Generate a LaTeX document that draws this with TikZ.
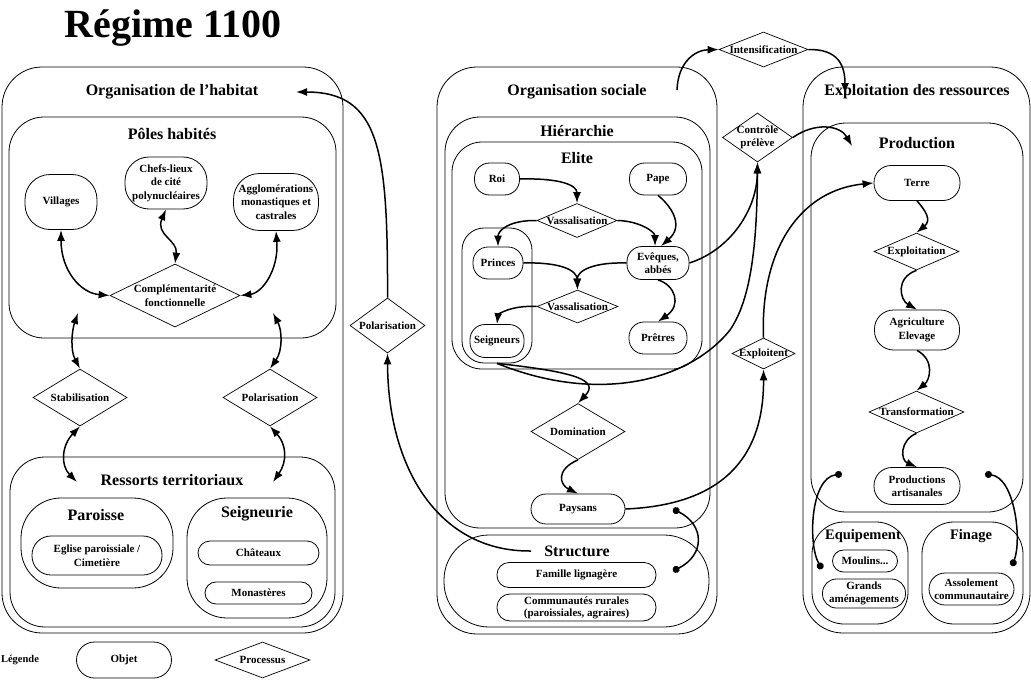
\documentclass[tikz,border=0pt]{standalone}
\usepackage{fontspec}
\setmainfont{Liberation Serif}
\usetikzlibrary{shapes.geometric,arrows.meta}
\tikzset{
  cont/.style={draw, line width=0.8pt, rounded corners=#1, inner sep=0pt},
  obj/.style={draw, line width=0.8pt, rounded corners=#1, align=center, inner sep=1pt,
    font=\fontsize{11}{13.5}\selectfont\bfseries},
  proc/.style={draw, diamond, line width=0.7pt, inner sep=0pt},
  ptxt/.style={font=\fontsize{11}{13.5}\selectfont\bfseries, align=center, inner sep=0pt},
  bigt/.style={font=\fontsize{16}{19}\selectfont\bfseries, inner sep=1pt},
  midt/.style={font=\fontsize{14.5}{17}\selectfont\bfseries, inner sep=1pt},
  smallt/.style={font=\fontsize{10.5}{12}\selectfont\bfseries, inner sep=1pt},
  arr/.style={line width=1.5pt, -{Latex[length=11pt,width=8pt]}},
  darr/.style={line width=1.5pt, {Latex[length=11pt,width=8pt]}-{Latex[length=11pt,width=8pt]}},
  dotc/.style={line width=1.5pt, {Circle[length=7pt]}-{Circle[length=7pt]}}
}
\begin{document}
\begin{tikzpicture}[x=1pt,y=-1pt]
\fill[white] (0,0) rectangle (1031,680);
\useasboundingbox (0,0) rectangle (1031,680);

\node[font=\fontsize{40}{44}\selectfont\bfseries, inner sep=0pt] (titre) at (173,28) {Régime 1100};

% ---------- Organisation de l'habitat ----------
\node[cont=40pt, minimum width=341, minimum height=566] (oh) at (172.5,350) {};
\node[bigt] (ohT) at (172,92) {Organisation de l’habitat};
\node[cont=35pt, minimum width=327, minimum height=221] (ph) at (172.5,227.5) {};
\node[bigt] (phT) at (172,134) {Pôles habités};
\node[obj=25pt, minimum width=72, minimum height=55] (vill) at (61,202) {Villages};
\node[obj=24pt, minimum width=82, minimum height=52] (chefs) at (166,183) {Chefs-lieux\\de cité\\polynucléaires};
\node[obj=26pt, minimum width=85, minimum height=57] (aggl) at (276,202) {Agglomérations\\monastiques et\\castrales};
\node[proc, minimum width=130, minimum height=63,
  label={[ptxt]center:Complémentarité\\fonctionnelle}] (comp) at (175,295.5) {};

\node[proc, minimum width=94, minimum height=57, label={[ptxt]center:Stabilisation}] (stab) at (80,397.5) {};
\node[proc, minimum width=94, minimum height=57, label={[ptxt]center:Polarisation}] (polL) at (270,397.5) {};

\node[cont=35pt, minimum width=325, minimum height=170] (rt) at (172.5,542) {};
\node[bigt] (rtT) at (172,480) {Ressorts territoriaux};
\node[cont=40pt, minimum width=152, minimum height=90] (par) at (97,543) {};
\node[bigt] (parT) at (96,515) {Paroisse};
\node[obj=19pt, minimum width=130, minimum height=39] (egl) at (97,555.5) {Eglise paroissiale /\\Cimetière};
\node[cont=40pt, minimum width=140, minimum height=120] (seig) at (257,558) {};
\node[bigt] (seigT) at (257,514) {Seigneurie};
\node[obj=12pt, minimum width=121, minimum height=24] (chat) at (258.5,553) {Châteaux};
\node[obj=11pt, minimum width=107, minimum height=22] (mona) at (258.5,593) {Monastères};

% legend
\node[smallt] (legT) at (20,660) {Légende};
\node[obj=18pt, minimum width=95, minimum height=36] (objet) at (124,660) {Objet};
\node[proc, minimum width=95, minimum height=36, label={[ptxt]center:Processus}] (procl) at (262.5,660) {};

% middle polarisation
\node[proc, minimum width=75, minimum height=55, label={[ptxt]center:Polarisation}] (polM) at (387.5,325.5) {};

% ---------- Organisation sociale ----------
\node[cont=40pt, minimum width=280, minimum height=567] (os) at (577,350.5) {};
\node[bigt] (osT) at (577,92) {Organisation sociale};
\node[cont=35pt, minimum width=265, minimum height=411] (hier) at (577.5,322.5) {};
\node[bigt] (hierT) at (577,131) {Hiérarchie};
\node[cont=30pt, minimum width=250, minimum height=227] (elite) at (577,255.5) {};
\node[bigt] (eliteT) at (577,158) {Elite};
\node[cont=22pt, minimum width=70, minimum height=135] (sgrp) at (497,295.5) {};
\node[obj=15pt, minimum width=45, minimum height=32] (roi) at (497,179) {Roi};
\node[obj=15pt, minimum width=57, minimum height=32] (pape) at (658,179) {Pape};
\node[proc, minimum width=80, minimum height=34, label={[ptxt]center:Vassalisation}] (vas1) at (577,220.5) {};
\node[obj=15pt, minimum width=50, minimum height=32] (princes) at (498,263) {Princes};
\node[obj=15pt, minimum width=62, minimum height=33, font=\fontsize{11}{12.5}\selectfont\bfseries] (evq) at (658,263) {Evêques,\\abbés};
\node[proc, minimum width=81, minimum height=33, label={[ptxt]center:Vassalisation}] (vas2) at (577.5,306.5) {};
\node[obj=15pt, minimum width=54, minimum height=33] (seign) at (497,341) {Seigneurs};
\node[obj=15pt, minimum width=58, minimum height=32] (pret) at (658,338) {Prêtres};
\node[proc, minimum width=94, minimum height=56, label={[ptxt]center:Domination}] (dom) at (578,431.5) {};
\node[obj=15pt, minimum width=94, minimum height=30] (pays) at (578,509) {Paysans};
\node[cont=45pt, minimum width=265, minimum height=92] (struct) at (576.5,581) {};
\node[bigt] (structT) at (577,551) {Structure};
\node[obj=12pt, minimum width=159, minimum height=25] (fam) at (576.5,575) {Famille lignagère};
\node[obj=13pt, minimum width=159, minimum height=27, inner sep=0pt, font=\fontsize{11}{12}\selectfont\bfseries] (comm) at (576.5,607.5) {Communautés rurales\\(paroissiales, agraires)};

% processes between columns
\node[proc, minimum width=89, minimum height=35, label={[ptxt]center:Intensification}] (int) at (763.5,49.5) {};
\node[proc, minimum width=70, minimum height=49, label={[ptxt]center:Contrôle\\prélève}] (ctrl) at (757.5,137.5) {};
\node[proc, minimum width=63, minimum height=31, label={[ptxt]center:Exploitent}] (explt) at (763.5,353.5) {};

% ---------- Exploitation des ressources ----------
\node[cont=40pt, minimum width=227, minimum height=566] (er) at (916.5,350) {};
\node[bigt] (erT) at (917,92) {Exploitation des ressources};
\node[cont=35pt, minimum width=212, minimum height=389] (prod) at (917,317.5) {};
\node[bigt] (prodT) at (917,143) {Production};
\node[obj=17pt, minimum width=86, minimum height=35] (terre) at (917,183) {Terre};
\node[proc, minimum width=85, minimum height=37, label={[ptxt]center:Exploitation}] (exploi) at (916.5,251.5) {};
\node[obj=19pt, minimum width=85, minimum height=40] (agri) at (917,330) {Agriculture\\Elevage};
\node[proc, minimum width=95, minimum height=42, label={[ptxt]center:Transformation}] (transf) at (916.5,412) {};
\node[obj=18pt, minimum width=86, minimum height=37] (prodart) at (917,486) {Productions\\artisanales};
\node[cont=32pt, minimum width=96, minimum height=102] (equip) at (860,573) {};
\node[midt] (equipT) at (863,536) {Equipement};
\node[obj=11pt, minimum width=65, minimum height=22] (moul) at (865,561) {Moulins...};
\node[obj=14pt, minimum width=83, minimum height=29, font=\fontsize{11}{12.5}\selectfont\bfseries] (grands) at (864,593.5) {Grands\\aménagements};
\node[cont=32pt, minimum width=101, minimum height=102] (fin) at (972.5,573) {};
\node[midt] (finT) at (971,536) {Finage};
\node[obj=16pt, minimum width=85, minimum height=32, font=\fontsize{11}{12.5}\selectfont\bfseries] (assol) at (971.5,589) {Assolement\\communautaire};

% free ends
\coordinate (sA) at (78,313);
\coordinate (sB) at (273,313);
\coordinate (sC) at (77,482);
\coordinate (sD) at (273,482);
\coordinate (ohA) at (296,92);
\coordinate (stA) at (531,551);
\coordinate (prA) at (852,146);
\coordinate (osA) at (677,90);
\coordinate (erA) at (845,94);
\coordinate (dA) at (673,509);
\coordinate (dB) at (673,571);
\coordinate (dC) at (842,474);
\coordinate (dD) at (822,569);
\coordinate (dE) at (985,474);
\coordinate (dF) at (1012,566);

% ---------- connectors ----------
\draw[darr] (vill.south) .. controls (61,270) and (80,293) .. (comp.west);
\draw[darr] (chefs.south) .. controls (155,235) and (178,240) .. (comp.north);
\draw[darr] (aggl.south) .. controls (279,270) and (262,293) .. (comp.east);
\draw[darr] (sA) .. controls (72,330) and (70,350) .. (stab.north);
\draw[darr] (sB) .. controls (282,330) and (283,350) .. (polL.north);
\draw[darr] (stab.south) .. controls (62,445) and (60,465) .. (sC);
\draw[darr] (polL.south) .. controls (287,445) and (287,462) .. (sD);

\draw[arr] (polM.north) .. controls (388,150) and (380,92) .. (ohA);
\draw[arr] (stA) .. controls (440,552) and (388,470) .. (polM.south);

\draw[arr] (roi.east) .. controls (560,178) and (577,185) .. (vas1.north);
\draw[arr] (vas1.west) .. controls (510,220) and (498,230) .. (princes.north);
\draw[arr] (vas1.east) .. controls (640,221) and (655,232) .. ([xshift=-3pt]evq.north);
\draw[arr] (pape.south) .. controls (670,205) and (685,225) .. ([xshift=3pt]evq.north);
\draw[arr] (princes.east) .. controls (560,262) and (577,270) .. (vas2.north);
\draw[arr] (evq.west) .. controls (595,262) and (577,270) .. (vas2.north);
\draw[arr] (vas2.west) .. controls (510,305) and (498,315) .. (seign.north);
\draw[arr] (evq.south) .. controls (675,285) and (682,305) .. (pret.north);
\draw[arr] (sgrp.south) .. controls (575,372) and (600,380) .. (dom.north);
\draw[arr] (sgrp.south) .. controls (600,405) and (690,380) .. (730,330)
  .. controls (752,298) and (757,240) .. (ctrl.south);
\draw[arr] (evq.east) .. controls (730,250) and (757,210) .. (ctrl.south);
\draw[arr] (dom.south) .. controls (555,470) and (560,485) .. (pays.north);
\draw[arr] (pays.east) .. controls (720,505) and (764,460) .. (explt.south);
\draw[arr] (explt.north) .. controls (760,250) and (800,190) .. (terre.west);
\draw[arr] (ctrl.east) .. controls (815,122) and (840,125) .. (prA);
\draw[arr] (osA) .. controls (678,62) and (695,50) .. (int.west);
\draw[arr] (int.east) .. controls (838,49) and (845,65) .. (erA);

\draw[arr] (terre.south) .. controls (925,210) and (932,220) .. (exploi.north);
\draw[arr] (exploi.south) .. controls (895,278) and (900,300) .. (agri.north);
\draw[arr] (agri.south) .. controls (935,360) and (930,380) .. (transf.north);
\draw[arr] (transf.south) .. controls (900,440) and (900,460) .. (prodart.north);

\draw[dotc] (dA) .. controls (705,525) and (705,555) .. (dB);
\draw[dotc] (dC) .. controls (810,478) and (808,545) .. (dD);
\draw[dotc] (dE) .. controls (1015,478) and (1022,540) .. (dF);
\end{tikzpicture}
\end{document}
